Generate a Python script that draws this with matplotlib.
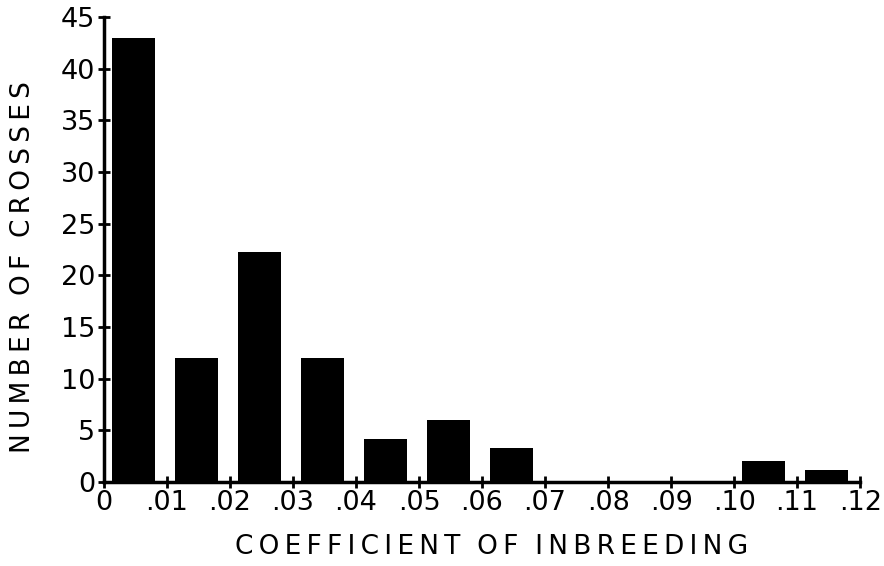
import matplotlib
matplotlib.use("Agg")
import matplotlib.pyplot as plt
import numpy as np

# Inbreeding coefficient classes (left edges) and number of crosses per class
bin_left = [0.00, 0.01, 0.02, 0.03, 0.04, 0.05, 0.06, 0.07, 0.08, 0.09, 0.10, 0.11]
crosses = [43, 12, 22.3, 12, 4.2, 6, 3.3, 0, 0, 0, 2, 1.2]

x_ticks = [0, .01, .02, .03, .04, .05, .06, .07, .08, .09, .10, .11, .12]
x_labels = ["0", ".01", ".02", ".03", ".04", ".05", ".06", ".07", ".08", ".09", ".10", ".11", ".12"]
y_ticks = [0, 5, 10, 15, 20, 25, 30, 35, 40, 45]

plt.rcParams["font.family"] = ["DejaVu Sans"]

fig = plt.figure(figsize=(8.84, 5.66), dpi=100)
ax = fig.add_axes([0.1176, 0.1484, 0.8554, 0.8216])

offset = 0.0013
width = 0.0068
ax.bar(np.array(bin_left) + offset, crosses, width, align="edge", color="black")

ax.set_xlim(0, 0.12)
ax.set_ylim(0, 45)
ax.set_xticks(x_ticks)
ax.set_xticklabels(x_labels)
ax.set_yticks(y_ticks)

for s in ["top", "right"]:
    ax.spines[s].set_visible(False)
for s in ["left", "bottom"]:
    ax.spines[s].set_linewidth(2.5)
    ax.spines[s].set_clip_on(False)

ax.tick_params(direction="inout", length=9, width=2, labelsize=19.5)
ax.tick_params(axis="x", pad=1)
ax.tick_params(axis="y", pad=2)

def spaced(t):
    return "\u2009".join(t)

ax.set_xlabel(spaced("COEFFICIENT") + "  " + spaced("OF") + "  " + spaced("INBREEDING"),
              fontsize=19)
ax.set_ylabel(spaced("NUMBER") + "  " + spaced("OF") + "  " + spaced("CROSSES"),
              fontsize=19)
ax.xaxis.set_label_coords(0.513, -0.112)
ax.yaxis.set_label_coords(-0.09, 0.462)

plt.savefig("out.png", dpi=100)
